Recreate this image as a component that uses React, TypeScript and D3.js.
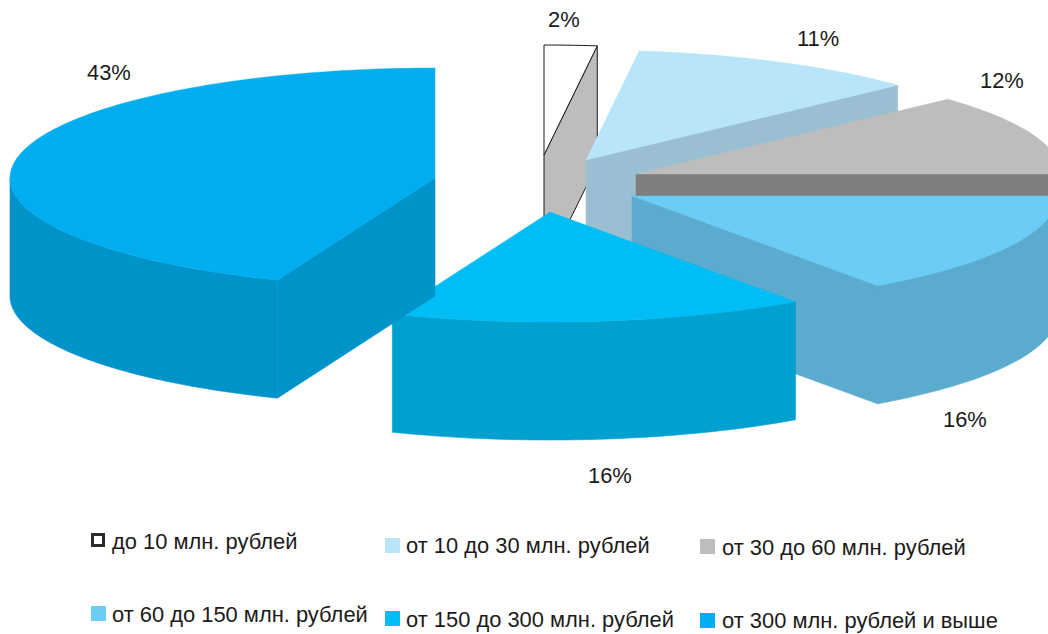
import React from "react";
import * as d3 from "d3";

// Data
const categories = [
  "до 10 млн. рублей",
  "от 10 до 30 млн. рублей",
  "от 30 до 60 млн. рублей",
  "от 60 до 150 млн. рублей",
  "от 150 до 300 млн. рублей",
  "от 300 млн. рублей и выше",
];
const shares = [2, 11.1, 11.9, 15.2, 15.85, 43.95];
const shareLabels = ["2%", "11%", "12%", "16%", "16%", "43%"];

// Styling and layout
const WIDTH = 1048;
const HEIGHT = 634;
const FONT = "'Liberation Sans', Arial, sans-serif";
const FONT_SIZE = 21.9;
const TEXT = "#1c1a1a";
const topColors = ["#ffffff", "#b9e5fb", "#bdbdbd", "#6bcdf6", "#00bdf5", "#00aeef"];
const sideColors = ["#bdbdbd", "#9bbfd2", "#7f7f7f", "#5aabce", "#00a0cf", "#0093ca"];
const centers: [number, number][] = [
  [544, 155],
  [586, 160],
  [636, 174],
  [632, 196],
  [550, 212],
  [435, 178],
];
const RX = 425;
const RY = 110;
const DEPTH = 118;
const labelPos: [number, number][] = [
  [548, 27],
  [797, 46],
  [980, 88],
  [943, 427],
  [588, 483],
  [87, 80],
];
const legendPos: { x: number; y: number; tx: number; ty: number }[] = [
  { x: 91, y: 533, tx: 112, ty: 549 },
  { x: 385, y: 538, tx: 406, ty: 553 },
  { x: 700, y: 539, tx: 722, ty: 555 },
  { x: 91, y: 606, tx: 112, ty: 622 },
  { x: 385, y: 611, tx: 406, ty: 627 },
  { x: 700, y: 613, tx: 722, ty: 628 },
];

const arcs = d3.pie<number>().sort(null).startAngle(0).endAngle(2 * Math.PI)(shares);
const line = d3.line().curve(d3.curveLinear);

const project = (c: [number, number], a: number, dz = 0): [number, number] => [
  c[0] + RX * Math.sin(a),
  c[1] - RY * Math.cos(a) + dz,
];

const sample = (a0: number, a1: number) => {
  const n = Math.max(2, Math.ceil(Math.abs(a1 - a0) / 0.02));
  return d3.range(n + 1).map((i) => a0 + ((a1 - a0) * i) / n);
};

const cutFace = (c: [number, number], a: number) =>
  (line([c, project(c, a), project(c, a, DEPTH), [c[0], c[1] + DEPTH]]) as string) + "Z";

const topFace = (c: [number, number], a0: number, a1: number) =>
  (line([c, ...sample(a0, a1).map((a) => project(c, a))]) as string) + "Z";

const outerSide = (c: [number, number], a0: number, a1: number) => {
  const from = Math.max(a0, Math.PI / 2);
  const to = Math.min(a1, (3 * Math.PI) / 2);
  if (to <= from) return null;
  const upper = sample(from, to).map((a) => project(c, a));
  const lower = sample(from, to).reverse().map((a) => project(c, a, DEPTH));
  return (line([...upper, ...lower]) as string) + "Z";
};

export default function App() {
  return (
    <svg
      width={WIDTH}
      height={HEIGHT}
      viewBox={`0 0 ${WIDTH} ${HEIGHT}`}
      style={{ position: "absolute", left: 0, top: 0, background: "#fff" }}
    >
      {arcs.map((d, i) => {
        const c = centers[i];
        const outlined = i === 0;
        const faceStroke = outlined ? "#1c1a1a" : sideColors[i];
        const faceWidth = outlined ? 1 : 0.6;
        const faces: string[] = [];
        if (Math.sin(d.startAngle) < -1e-6) faces.push(cutFace(c, d.startAngle));
        if (Math.sin(d.endAngle) > 1e-6) faces.push(cutFace(c, d.endAngle));
        const outer = outerSide(c, d.startAngle, d.endAngle);
        return (
          <g key={categories[i]}>
            {outer && <path d={outer} fill={sideColors[i]} stroke={sideColors[i]} strokeWidth={0.6} />}
            {faces.map((p, k) => (
              <path key={k} d={p} fill={sideColors[i]} stroke={faceStroke} strokeWidth={faceWidth} />
            ))}
            <path
              d={topFace(c, d.startAngle, d.endAngle)}
              fill={topColors[i]}
              stroke={outlined ? "#1c1a1a" : topColors[i]}
              strokeWidth={outlined ? 1 : 0.4}
            />
          </g>
        );
      })}
      {shareLabels.map((t, i) => (
        <text key={i} x={labelPos[i][0]} y={labelPos[i][1]} fontFamily={FONT} fontSize={FONT_SIZE} fill={TEXT}>
          {t}
        </text>
      ))}
      {categories.map((t, i) => {
        const l = legendPos[i];
        return (
          <g key={t}>
            {i === 0 ? (
              <rect x={l.x + 1.5} y={l.y + 1.5} width={11} height={11} fill="#fff" stroke="#2b2a2a" strokeWidth={3} />
            ) : (
              <rect x={l.x} y={l.y} width={15} height={15} fill={topColors[i]} />
            )}
            <text x={l.tx} y={l.ty} fontFamily={FONT} fontSize={FONT_SIZE} fill={TEXT}>
              {t}
            </text>
          </g>
        );
      })}
    </svg>
  );
}
